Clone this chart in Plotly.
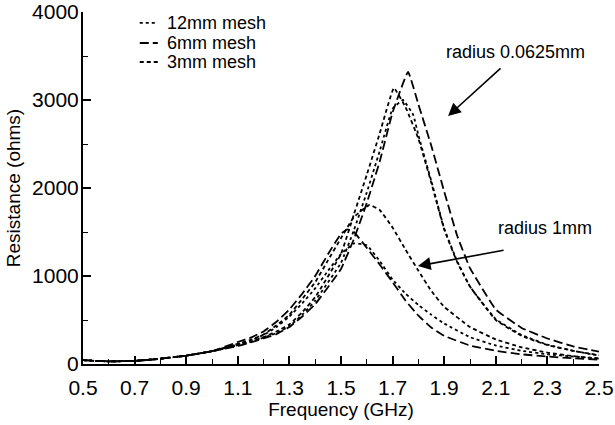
import plotly.graph_objects as go

# ---- data ----
freq_low = [0.5, 0.55, 0.6, 0.7, 0.8, 0.9, 1.0]
res_low = [45, 35, 30, 35, 60, 95, 145]

# radius 0.0625 mm
a12_f = [1.1, 1.15, 1.2, 1.25, 1.3, 1.35, 1.4, 1.5, 1.55, 1.6, 1.65, 1.7, 1.74, 1.78, 1.8, 1.85, 1.9, 1.95, 2.0, 2.1, 2.2, 2.3, 2.4, 2.5]
a12_r = [210, 250, 300, 350, 430, 560, 720, 1150, 1520, 1950, 2420, 2900, 3000, 2830, 2600, 2080, 1540, 1170, 880, 510, 330, 220, 150, 95]
a6_f = [1.1, 1.15, 1.2, 1.25, 1.3, 1.35, 1.4, 1.5, 1.55, 1.6, 1.65, 1.7, 1.76, 1.8, 1.85, 1.9, 1.95, 2.0, 2.1, 2.2, 2.3, 2.4, 2.5]
a6_r = [205, 245, 290, 340, 420, 540, 680, 1080, 1420, 1830, 2300, 2860, 3320, 2950, 2480, 1960, 1460, 1090, 620, 410, 290, 200, 140]
a3_f = [1.1, 1.15, 1.2, 1.25, 1.3, 1.35, 1.4, 1.5, 1.55, 1.6, 1.65, 1.705, 1.75, 1.8, 1.85, 1.9, 1.95, 2.0, 2.1, 2.2, 2.3, 2.4, 2.5]
a3_r = [215, 255, 305, 370, 450, 590, 760, 1250, 1700, 2150, 2620, 3136, 2920, 2560, 2060, 1530, 1160, 880, 500, 320, 215, 150, 100]

# radius 1 mm
b12_f = [1.1, 1.15, 1.2, 1.25, 1.3, 1.35, 1.4, 1.45, 1.5, 1.55, 1.6, 1.65, 1.7, 1.75, 1.8, 1.85, 1.9, 2.0, 2.1, 2.2, 2.3, 2.4, 2.5]
b12_r = [225, 270, 330, 420, 540, 690, 860, 1060, 1250, 1370, 1350, 1170, 960, 800, 670, 560, 460, 305, 210, 150, 110, 85, 65]
b6_f = [1.1, 1.15, 1.2, 1.25, 1.3, 1.35, 1.4, 1.45, 1.5, 1.525, 1.55, 1.6, 1.65, 1.7, 1.75, 1.8, 1.85, 1.9, 2.0, 2.1, 2.2, 2.3, 2.4, 2.5]
b6_r = [250, 300, 370, 480, 620, 800, 1000, 1250, 1480, 1530, 1500, 1320, 1130, 930, 720, 550, 415, 320, 210, 150, 110, 85, 65, 50]
b3_f = [1.1, 1.15, 1.2, 1.25, 1.3, 1.35, 1.4, 1.45, 1.5, 1.55, 1.61, 1.65, 1.7, 1.75, 1.8, 1.85, 1.9, 2.0, 2.1, 2.2, 2.3, 2.4, 2.5]
b3_r = [230, 275, 335, 440, 560, 740, 930, 1180, 1430, 1670, 1807, 1750, 1550, 1300, 1060, 830, 650, 420, 280, 190, 130, 90, 60]

x_ticks = [0.5, 0.7, 0.9, 1.1, 1.3, 1.5, 1.7, 1.9, 2.1, 2.3, 2.5]
y_ticks = [0, 1000, 2000, 3000, 4000]
legend_names = ["12mm mesh", "6mm mesh", "3mm mesh"]

FONT = "Liberation Sans, Arial, sans-serif"
DASH_12 = "dot"
DASH_6 = "9px,4px"
DASH_3 = "4px,3px"
dashes = [DASH_12, DASH_6, DASH_3]
LW = 1.8

fig = go.Figure()

def add(fx, fr, dash, name):
    fig.add_trace(go.Scatter(
        x=freq_low + fx, y=res_low + fr, mode="lines", name=name,
        showlegend=False, line=dict(color="black", width=LW, dash=dash, shape="spline", smoothing=0.3)))

add(a12_f, a12_r, DASH_12, "12mm mesh")
add(a6_f, a6_r, DASH_6, "6mm mesh")
add(a3_f, a3_r, DASH_3, "3mm mesh")
add(b12_f, b12_r, DASH_12, "12mm mesh")
add(b6_f, b6_r, DASH_6, "6mm mesh")
add(b3_f, b3_r, DASH_3, "3mm mesh")

# legend drawn as key lines + labels (compact row spacing as in the reference)
leg_rows = [0.969, 0.912, 0.858]
for name, dash, yy in zip(legend_names, dashes, leg_rows):
    fig.add_shape(type="line", xref="paper", yref="paper", x0=0.110, x1=0.145, y0=yy, y1=yy,
                  line=dict(color="black", width=LW, dash=dash))
    fig.add_annotation(xref="paper", yref="paper", x=0.159, y=yy, xanchor="left", yanchor="middle",
                       text=name, showarrow=False, font=dict(size=18, color="black", family=FONT))

fig.add_annotation(x=1.915, y=2818, ax=2.124, ay=3375, axref="x", ayref="y",
                   xref="x", yref="y", text="", showarrow=True,
                   arrowhead=2, arrowsize=1.6, arrowwidth=1.6, arrowcolor="black")
fig.add_annotation(x=2.178, y=3545, text="radius 0.0625mm", showarrow=False,
                   font=dict(size=18, color="black", family=FONT))
fig.add_annotation(x=1.798, y=1114, ax=2.136, ay=1295, axref="x", ayref="y",
                   xref="x", yref="y", text="", showarrow=True,
                   arrowhead=2, arrowsize=1.6, arrowwidth=1.6, arrowcolor="black")
fig.add_annotation(x=2.29, y=1545, text="radius 1mm", showarrow=False,
                   font=dict(size=18, color="black", family=FONT))

fig.update_layout(
    width=615, height=425,
    margin=dict(l=83, r=16, t=12, b=61),
    paper_bgcolor="white", plot_bgcolor="white",
    font=dict(family=FONT, color="black", size=18),
    showlegend=False,
    xaxis=dict(range=[0.5, 2.5], tickvals=x_ticks, ticktext=[f"{v:.1f}" for v in x_ticks],
               automargin=False,
               ticks="inside", ticklen=8, tickwidth=1.5, tickcolor="black", ticklabelstandoff=4,
               minor=dict(dtick=0.1, tick0=0.5, ticks="inside", ticklen=5, tickwidth=1, tickcolor="black"),
               showline=True, linewidth=2, linecolor="black", showgrid=False, zeroline=False,
               tickfont=dict(size=21), title=dict(text="Frequency (GHz)", font=dict(size=19), standoff=4)),
    yaxis=dict(range=[0, 4000], tickvals=y_ticks, automargin=False,
               ticks="inside", ticklen=8, tickwidth=1.5, tickcolor="black", ticklabelstandoff=-2,
               minor=dict(dtick=500, ticks="inside", ticklen=5, tickwidth=1, tickcolor="black"),
               showline=True, linewidth=2, linecolor="black", showgrid=False, zeroline=False,
               tickfont=dict(size=21), title=dict(text="Resistance (ohms)", font=dict(size=19), standoff=6)),
)

fig.write_html("out.html")
